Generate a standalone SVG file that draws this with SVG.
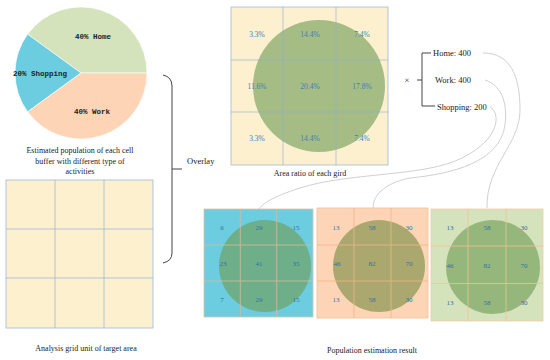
<svg xmlns="http://www.w3.org/2000/svg" width="550" height="360" viewBox="0 0 550 360">
<style>
.cap{font-family:"Liberation Serif",serif;font-size:8px;fill:#222;text-anchor:middle}
.lbl{font-family:"Liberation Serif",serif;font-size:8.5px;fill:#222}
.pie{font-family:"Liberation Mono",monospace;font-size:7.5px;font-weight:bold;fill:#222;text-anchor:middle}
.pct{font-family:"Liberation Serif",serif;font-size:7.5px;fill:#3d7fb3;text-anchor:middle}
.num{font-family:"Liberation Serif",serif;font-size:7px;fill:#2f6fa8;text-anchor:middle}
.circ{fill:#6f9c55;fill-opacity:0.62}
.conn{fill:none;stroke:#bbb;stroke-width:0.7}
.brk{fill:none;stroke:#444;stroke-width:1}
</style>
<rect width="550" height="360" fill="#fff"/>

<g id="pie">
<path d="M81,73 L147,73 A66,66 0 0,0 27.6,34.2 Z" fill="#d5e3bc" stroke="#fff" stroke-width="0.6"/>
<path d="M81,73 L27.6,34.2 A66,66 0 0,0 27.6,111.8 Z" fill="#6ccde0" stroke="#fff" stroke-width="0.6"/>
<path d="M81,73 L27.6,111.8 A66,66 0 0,0 147,73 Z" fill="#fdd5b6" stroke="#fff" stroke-width="0.6"/>
<text class="pie" x="93" y="38.5">40% Home</text>
<text class="pie" x="40" y="76">20% Shopping</text>
<text class="pie" x="92" y="114">40% Work</text>
<text class="cap" x="80" y="153">Estimated population of each cell</text>
<text class="cap" x="80" y="164">buffer with different type of</text>
<text class="cap" x="80" y="174">activities</text>
</g>

<g id="analysis-grid">
<rect x="6" y="180" width="147" height="148" fill="#fdf0cf" stroke="#9cb9d6" stroke-width="0.8"/>
<path d="M55,180V328M104,180V328M6,229H153M6,278H153" stroke="#9cb9d6" stroke-width="0.8"/>
<text class="cap" x="86" y="351">Analysis grid unit of target area</text>
</g>

<g id="overlay">
<path class="brk" d="M163,75 Q172,77 172,86 L172,253 Q172,261 163,263 M172,169 H182"/>
<text class="lbl" x="187" y="164">Overlay</text>
</g>

<g id="area-ratio">
<rect x="231" y="7" width="157" height="158" fill="#fdf0cf"/>
<circle class="circ" cx="319" cy="86" r="66"/>
<rect x="231" y="7" width="157" height="158" fill="none" stroke="#9cb9d6" stroke-width="0.8"/>
<path d="M283,7V165M336,7V165M231,60H388M231,112H388" stroke="#8fb2d0" stroke-width="0.8" stroke-opacity="0.8"/>
<text class="pct" x="257" y="36.5">3.3%</text>
<text class="pct" x="310" y="36.5">14.4%</text>
<text class="pct" x="362" y="36.5">7.4%</text>
<text class="pct" x="257" y="88.5">11.6%</text>
<text class="pct" x="310" y="88.5">20.4%</text>
<text class="pct" x="362" y="88.5">17.8%</text>
<text class="pct" x="257" y="141">3.3%</text>
<text class="pct" x="310" y="141">14.4%</text>
<text class="pct" x="362" y="141">7.4%</text>
<text class="cap" x="310" y="176">Area ratio of each gird</text>
</g>

<g id="multiplier">
<text class="lbl" x="407" y="83" text-anchor="middle" font-size="8">×</text>
<path class="brk" d="M417,80H422M431,53H422V106H435"/>
<text class="lbl" x="433" y="56">Home: 400</text>
<text class="lbl" x="435" y="83">Work: 400</text>
<text class="lbl" x="437" y="110">Shopping: 200</text>
</g>

<g id="result-shopping">
<rect x="204" y="209" width="109" height="108" fill="#6ccde0"/>
<circle class="circ" cx="265" cy="266" r="46"/>
<rect x="204" y="209" width="109" height="108" fill="none" stroke="#dcc6a6" stroke-width="0.8"/>
<path d="M240.3,209V317M276.7,209V317M204,245H313M204,281H313" stroke="#d2bc98" stroke-width="0.8"/>
<text class="num" x="222" y="229.5">6</text>
<text class="num" x="259" y="229.5">29</text>
<text class="num" x="296" y="229.5">15</text>
<text class="num" x="223" y="265.5">23</text>
<text class="num" x="259" y="265.5">41</text>
<text class="num" x="296" y="265.5">35</text>
<text class="num" x="222" y="301.5">7</text>
<text class="num" x="259" y="301.5">29</text>
<text class="num" x="296" y="301.5">15</text>
</g>

<g id="result-work">
<rect x="317" y="208" width="111" height="110" fill="#fdd5b6"/>
<circle cx="379" cy="266" r="46" style="fill:#778c42;fill-opacity:0.62"/>
<rect x="317" y="208" width="111" height="110" fill="none" stroke="#f6bd92" stroke-width="0.8"/>
<path d="M354,208V318M391,208V318M317,245H428M317,281H428" stroke="#f3b486" stroke-width="0.8"/>
<text class="num" x="336" y="229.5">13</text>
<text class="num" x="372" y="229.5">58</text>
<text class="num" x="409" y="229.5">30</text>
<text class="num" x="337" y="265.5">46</text>
<text class="num" x="372" y="265.5">82</text>
<text class="num" x="409" y="265.5">70</text>
<text class="num" x="336" y="301.5">13</text>
<text class="num" x="372" y="301.5">58</text>
<text class="num" x="409" y="301.5">30</text>
</g>

<g id="result-home">
<rect x="431" y="209" width="112" height="112" fill="#d5e3bc"/>
<circle class="circ" cx="493" cy="267" r="47"/>
<rect x="431" y="209" width="112" height="112" fill="none" stroke="#f5cba4" stroke-width="0.8"/>
<path d="M468,209V321M506,209V321M431,246H543M431,283.5H543" stroke="#f2c094" stroke-width="0.8"/>
<text class="num" x="450" y="230">13</text>
<text class="num" x="487" y="230">58</text>
<text class="num" x="524" y="230">30</text>
<text class="num" x="450" y="267.5">46</text>
<text class="num" x="487" y="267.5">82</text>
<text class="num" x="524" y="267.5">70</text>
<text class="num" x="450" y="304.5">13</text>
<text class="num" x="487" y="304.5">58</text>
<text class="num" x="524" y="304.5">30</text>
<text class="cap" x="372" y="353">Population estimation result</text>
</g>

<g id="connectors">
<path class="conn" d="M490,107 C500,112 502,138 462,158 C425,177 350,172 300,188 C272,197 262,204 259,209"/>
<path class="conn" d="M485,80 C500,85 508,100 505,125 C500,162 452,174 410,178 C385,183 373,195 373,208"/>
<path class="conn" d="M483,53 C510,53 520,75 520,110 C520,145 486,165 487,208"/>
</g>
</svg>
